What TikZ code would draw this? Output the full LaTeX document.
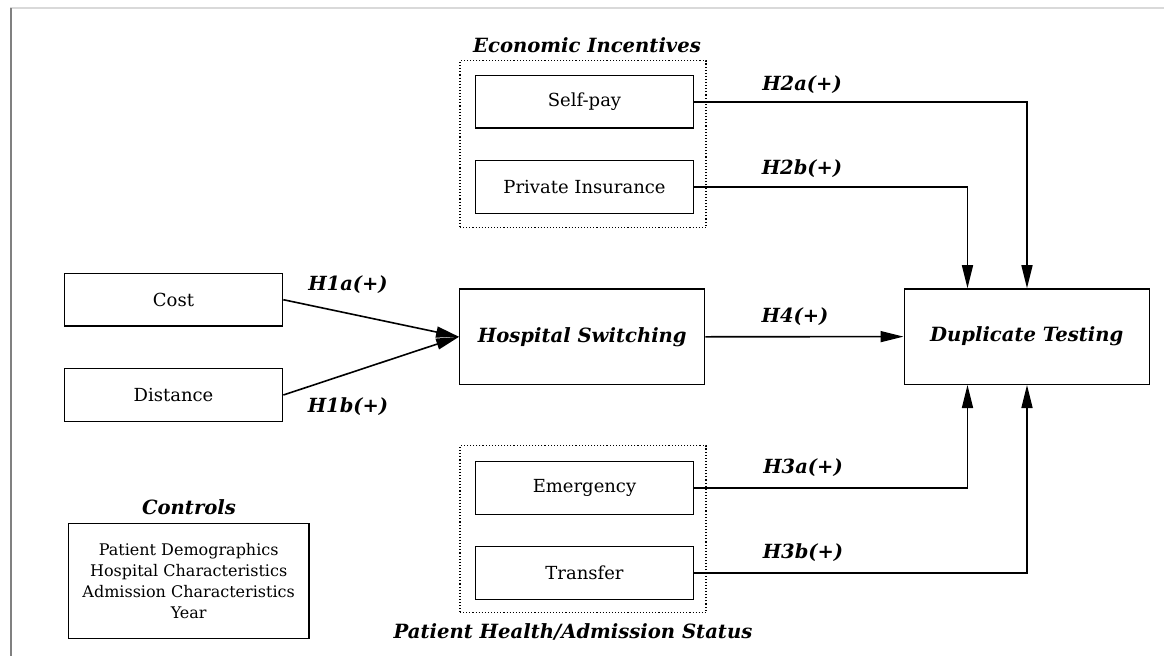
\documentclass[tikz,border=0pt]{standalone}
\usepackage{fontspec}
\setmainfont{DejaVu Serif}
\usetikzlibrary{arrows.meta}
\definecolor{frametop}{HTML}{D9D9D9}
\definecolor{frameleft}{HTML}{808080}
\tikzset{
  box/.style={draw=black, line width=1.3pt, inner sep=0pt, align=center,
    minimum width=217.6pt, minimum height=52.7pt, font=\fontsize{18}{21}\selectfont},
  bigbox/.style={draw=black, line width=1.3pt, inner sep=0pt, align=center,
    minimum width=245pt, minimum height=95.5pt, font=\fontsize{19.6}{23}\selectfont\bfseries\itshape},
  group/.style={draw=black, line width=1.1pt, dotted},
  title/.style={font=\fontsize{19.6}{23}\selectfont\bfseries\itshape, inner sep=0pt},
  hyp/.style={font=\fontsize{19.5}{23}\selectfont\bfseries\itshape, inner sep=0pt},
  conn/.style={line width=1.6pt, -{Triangle[length=23pt,width=11pt]}},
}
\begin{document}
\begin{tikzpicture}[x=1pt,y=-1pt]
\useasboundingbox (0,0) rectangle (1164,656);
% frame
\draw[frametop, line width=1.5pt] (10,8) -- (1164,8);
\draw[frameleft, line width=2pt] (11,8) -- (11,656);

% groups
\node[group, minimum width=246pt, minimum height=167pt, inner sep=0pt] (econ) at (583,144.2) {};
\node[group, minimum width=246pt, minimum height=167pt, inner sep=0pt] (health) at (583,529.2) {};
\node[title] (econlabel) at (587,45) {Economic Incentives};
\node[title] (healthlabel) at (573,632) {Patient Health/Admission Status};

% boxes
\node[box] (selfpay) at (584.5,101.7) {Self-pay};
\node[box] (private) at (584.5,187) {Private Insurance};
\node[box] (emerg) at (584.5,488) {Emergency};
\node[box] (transfer) at (584.5,573) {Transfer};
\node[box, minimum width=218.4pt] (cost) at (173.5,299.7) {Cost};
\node[box, minimum width=218.4pt] (distance) at (173.5,395) {Distance};
\node[bigbox] (hosp) at (582.2,336.8) {Hospital Switching};
\node[bigbox] (dup) at (1026.7,336.6) {Duplicate Testing};

% controls
\node[title] (ctrllabel) at (189,507) {Controls};
\node[draw=black, line width=1.3pt, minimum width=240.7pt, minimum height=115pt, inner sep=0pt,
  align=center, font=\fontsize{16}{21}\selectfont] (controls) at (188.7,581)
  {Patient Demographics\\Hospital Characteristics\\Admission Characteristics\\Year};

% turning points
\coordinate (c2a) at (1027,101.7);
\coordinate (c2b) at (967.5,187);
\coordinate (c3a) at (967.5,488);
\coordinate (c3b) at (1027,573);

% connectors
\draw[conn] (cost.east) -- (hosp.west);
\draw[conn] (distance.east) -- (hosp.west);
\draw[conn] (hosp.east) -- (dup.west);
\draw[conn] (selfpay.east) -- (c2a) -- (dup.north -| c2a);
\draw[conn] (private.east) -- (c2b) -- (dup.north -| c2b);
\draw[conn] (emerg.east) -- (c3a) -- (dup.south -| c3a);
\draw[conn] (transfer.east) -- (c3b) -- (dup.south -| c3b);

% labels
\node[hyp] (h1a) at (348,285) {H1a(+)};
\node[hyp] (h1b) at (348,407) {H1b(+)};
\node[hyp] (h2a) at (802,85) {H2a(+)};
\node[hyp] (h2b) at (802,168.5) {H2b(+)};
\node[hyp] (h4) at (795,317) {H4(+)};
\node[hyp] (h3a) at (803,468) {H3a(+)};
\node[hyp] (h3b) at (803,553) {H3b(+)};
\end{tikzpicture}
\end{document}
